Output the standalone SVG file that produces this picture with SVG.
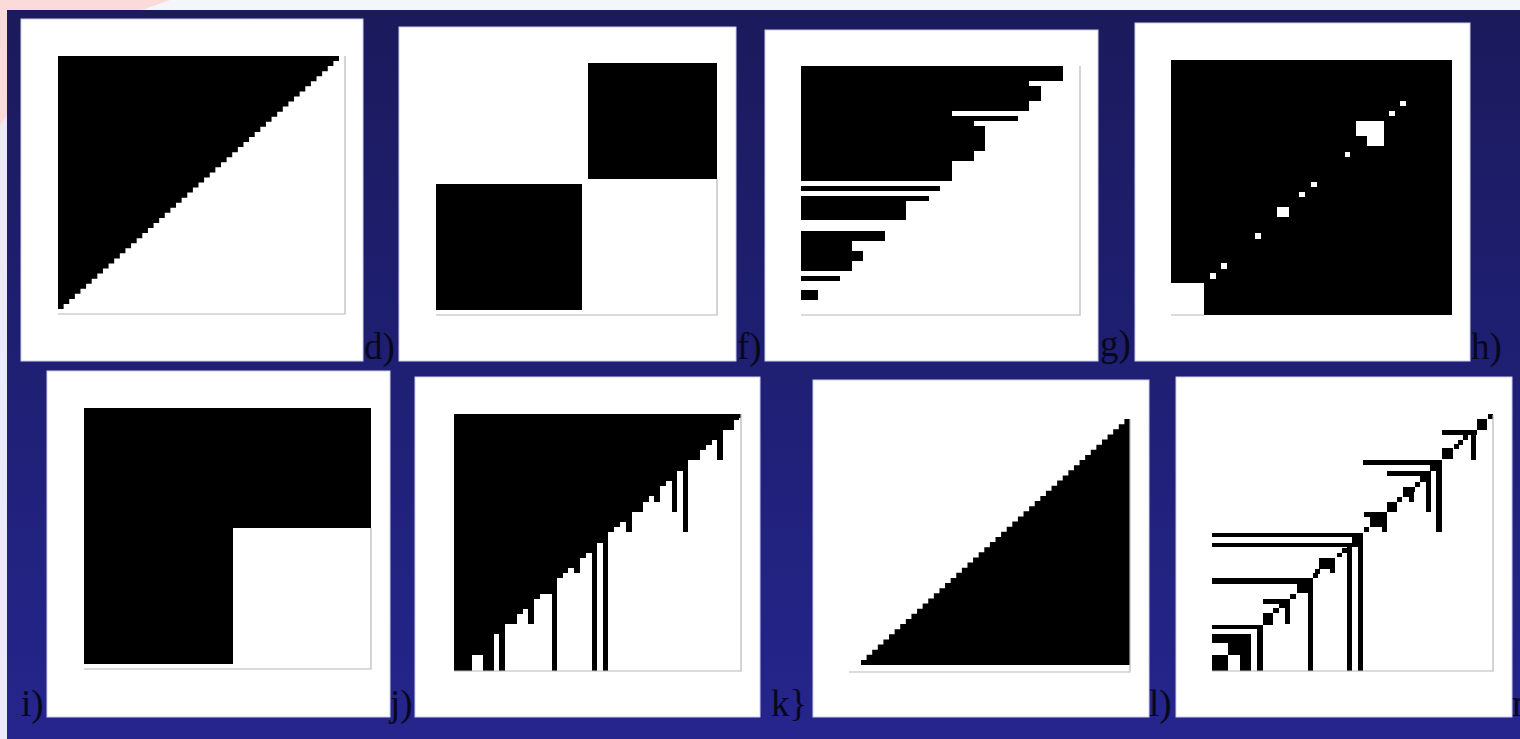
<svg xmlns="http://www.w3.org/2000/svg" width="1520" height="739" viewBox="0 0 1520 739">
<defs>
<linearGradient id="bgGrad" x1="0" y1="0" x2="0" y2="1">
<stop offset="0" stop-color="#1b1a5c"/>
<stop offset="0.5" stop-color="#1f1f74"/>
<stop offset="1" stop-color="#25258d"/>
</linearGradient>
<style>
.panel{fill:#ffffff;stroke:#cfd0ee;stroke-width:1}
.blk{fill:#000000;shape-rendering:crispEdges}
.stair{fill:#000000}
.wht{fill:#ffffff;shape-rendering:crispEdges}
.ax{stroke:#b8b8b8;stroke-width:1.2;fill:none}
.lbl{font-family:"Liberation Serif","Times New Roman",serif;font-size:37px;fill:#08081c}
</style>
</defs>
<rect x="0" y="0" width="1520" height="739" fill="#f3f7fc"/>
<rect x="0" y="110" width="7" height="629" fill="#eceaf6"/>
<polygon points="0,0 170,0 142,10 7,10 7,115 0,125" fill="#fbdada"/>
<rect x="7" y="10" width="1513" height="729" fill="url(#bgGrad)"/>

<g id="panel-d">
<rect class="panel" x="21" y="19" width="342" height="342"/>
<path class="stair" d="M58,56H339
v5.06h-5.62v5.06h-5.62v5.06h-5.62v5.06h-5.62v5.06h-5.62
v5.06h-5.62v5.06h-5.62v5.06h-5.62v5.06h-5.62v5.06h-5.62
v5.06h-5.62v5.06h-5.62v5.06h-5.62v5.06h-5.62v5.06h-5.62
v5.06h-5.62v5.06h-5.62v5.06h-5.62v5.06h-5.62v5.06h-5.62
v5.06h-5.62v5.06h-5.62v5.06h-5.62v5.06h-5.62v5.06h-5.62
v5.06h-5.62v5.06h-5.62v5.06h-5.62v5.06h-5.62v5.06h-5.62
v5.06h-5.62v5.06h-5.62v5.06h-5.62v5.06h-5.62v5.06h-5.62
v5.06h-5.62v5.06h-5.62v5.06h-5.62v5.06h-5.62v5.06h-5.62
v5.06h-5.62v5.06h-5.62v5.06h-5.62v5.06h-5.62v5.06h-5.62
v5.06h-5.62v5.06h-5.62v5.06h-5.62v5.06h-5.62
v5.06H58Z"/>
<path class="ax" d="M58,314H345V56"/>
<text class="lbl" x="364" y="359">d)</text>
</g>

<g id="panel-f">
<rect class="panel" x="399" y="27" width="337" height="334"/>
<rect class="blk" x="588" y="63" width="129" height="116"/>
<rect class="blk" x="436" y="184" width="146" height="126"/>
<path class="ax" d="M436,315H717V179"/>
<text class="lbl" x="737" y="359">f)</text>
</g>

<g id="panel-g">
<rect class="panel" x="765" y="30" width="333" height="331"/>
<g class="blk">
<rect x="801" y="66" width="262" height="15"/>
<rect x="801" y="81" width="228" height="5"/>
<rect x="801" y="86" width="240" height="15"/>
<rect x="801" y="101" width="228" height="10"/>
<rect x="801" y="111" width="151" height="5"/>
<rect x="801" y="116" width="217" height="5"/>
<rect x="801" y="121" width="173" height="5"/>
<rect x="801" y="126" width="184" height="25"/>
<rect x="801" y="151" width="173" height="10"/>
<rect x="801" y="161" width="151" height="20"/>
<rect x="801" y="186" width="139" height="5"/>
<rect x="801" y="196" width="128" height="5"/>
<rect x="801" y="201" width="105" height="19"/>
<rect x="801" y="231" width="84" height="10"/>
<rect x="801" y="241" width="51" height="10"/>
<rect x="801" y="251" width="62" height="10"/>
<rect x="801" y="261" width="51" height="10"/>
<rect x="801" y="276" width="39" height="5"/>
<rect x="801" y="290" width="17" height="10"/>
</g>
<path class="ax" d="M801,315H1080V66"/>
<text class="lbl" x="1100" y="356">g)</text>
</g>

<g id="panel-h">
<rect class="panel" x="1135" y="23" width="335" height="338"/>
<rect class="blk" x="1171" y="60" width="281" height="255"/>
<g class="wht">
<rect x="1171" y="283" width="33" height="32"/>
<rect x="1400" y="101" width="6" height="5"/>
<rect x="1389" y="111" width="6" height="5"/>
<rect x="1356" y="121" width="28" height="15"/>
<rect x="1367" y="136" width="17" height="10"/>
<rect x="1345" y="152" width="5" height="5"/>
<rect x="1311" y="182" width="6" height="5"/>
<rect x="1299" y="192" width="6" height="5"/>
<rect x="1277" y="207" width="12" height="10"/>
<rect x="1255" y="233" width="6" height="6"/>
<rect x="1221" y="263" width="6" height="6"/>
<rect x="1210" y="273" width="6" height="6"/>
</g>
<path class="ax" d="M1171,315H1204"/>
<text class="lbl" x="1471" y="359">h)</text>
</g>

<g id="panel-i">
<rect class="panel" x="47" y="371" width="343" height="346"/>
<path class="blk" d="M84,408H371V528H233V664H84Z"/>
<path class="ax" d="M84,669H371V528"/>
<text class="lbl" x="21" y="716">i)</text>
</g>

<g id="panel-j">
<rect class="panel" x="415" y="377" width="345" height="340"/>
<rect class="blk" x="454" y="414" width="287" height="257"/>
<g class="wht">
<rect x="471.7" y="655" width="11" height="16"/>
<rect x="494" y="634" width="5.3" height="37"/>
<rect x="505" y="624" width="11.7" height="47"/>
<rect x="516.7" y="614" width="6" height="57"/>
<rect x="522.7" y="609" width="5.6" height="62"/>
<rect x="528.3" y="624" width="5.7" height="47"/>
<rect x="534" y="599" width="6" height="72"/>
<rect x="540" y="594" width="11.7" height="77"/>
<rect x="556.7" y="578" width="6" height="93"/>
<rect x="562.7" y="573" width="5.6" height="98"/>
<rect x="568.3" y="568" width="6" height="103"/>
<rect x="574.3" y="573" width="5.7" height="98"/>
<rect x="580" y="558" width="6" height="113"/>
<rect x="586" y="553" width="5.7" height="118"/>
<rect x="596.7" y="543" width="6" height="128"/>
<rect x="608.3" y="532" width="6" height="139"/>
<rect x="614.3" y="527" width="5.7" height="144"/>
<rect x="620" y="522" width="6" height="149"/>
<rect x="626" y="532" width="5.7" height="139"/>
<rect x="631.7" y="512" width="11.6" height="159"/>
<rect x="643.3" y="502" width="6" height="169"/>
<rect x="649.3" y="496" width="4.7" height="175"/>
<rect x="654" y="502" width="6" height="169"/>
<rect x="660" y="486" width="6" height="185"/>
<rect x="666" y="481" width="5.7" height="190"/>
<rect x="671.7" y="512" width="5.6" height="159"/>
<rect x="677.3" y="471" width="6" height="200"/>
<rect x="683.3" y="532" width="5" height="139"/>
<rect x="688.3" y="460" width="11.7" height="211"/>
<rect x="700" y="450" width="6" height="221"/>
<rect x="706" y="445" width="5.7" height="226"/>
<rect x="711.7" y="440" width="5.6" height="231"/>
<rect x="717.3" y="460" width="5.4" height="211"/>
<rect x="722.7" y="430" width="11.3" height="241"/>
<rect x="734" y="420" width="5.3" height="251"/>
<rect x="739.3" y="418" width="1.7" height="253"/>
</g>
<path class="ax" d="M454,671H741V414"/>
<text class="lbl" x="390" y="716">j)</text>
</g>

<g id="panel-k">
<rect class="panel" x="813" y="380" width="336" height="337"/>
<path class="stair" d="M861,665
v-5.125h5.604v-5.125h5.604v-5.125h5.604v-5.125h5.604v-5.125h5.604
v-5.125h5.604v-5.125h5.604v-5.125h5.604v-5.125h5.604v-5.125h5.604
v-5.125h5.604v-5.125h5.604v-5.125h5.604v-5.125h5.604v-5.125h5.604
v-5.125h5.604v-5.125h5.604v-5.125h5.604v-5.125h5.604v-5.125h5.604
v-5.125h5.604v-5.125h5.604v-5.125h5.604v-5.125h5.604v-5.125h5.604
v-5.125h5.604v-5.125h5.604v-5.125h5.604v-5.125h5.604v-5.125h5.604
v-5.125h5.604v-5.125h5.604v-5.125h5.604v-5.125h5.604v-5.125h5.604
v-5.125h5.604v-5.125h5.604v-5.125h5.604v-5.125h5.604v-5.125h5.604
v-5.125h5.604v-5.125h5.604v-5.125h5.604v-5.125h5.604v-5.125h5.604
v-5.125h5.604v-5.125h5.604v-5.125h5.604
V665Z"/>
<path class="ax" d="M849,672H1130V419"/>
<text class="lbl" x="771" y="716">k}</text>
</g>

<g id="panel-l">
<rect class="panel" x="1176" y="377" width="336" height="340"/>
<g class="blk">
<rect x="1212.3" y="655" width="16" height="15.7"/>
<rect x="1212.3" y="634" width="38.4" height="9.3"/>
<rect x="1228.3" y="643" width="22.4" height="12.2"/>
<rect x="1240" y="655" width="10.7" height="15.7"/>
<rect x="1212.3" y="624.7" width="50.4" height="4.6"/>
<rect x="1257" y="624.7" width="5.7" height="46"/>
<rect x="1262.7" y="613.3" width="10.6" height="11.4"/>
<rect x="1273.3" y="608.3" width="5.7" height="5"/>
<rect x="1279" y="603.3" width="6" height="5"/>
<rect x="1263" y="599" width="27" height="4.5"/>
<rect x="1285" y="599" width="5" height="25"/>
<rect x="1290" y="594" width="5.5" height="5"/>
<rect x="1212.3" y="578.3" width="100.4" height="5.5"/>
<rect x="1296.7" y="578.3" width="16" height="15"/>
<rect x="1307.7" y="578.3" width="5" height="92.4"/>
<rect x="1312.7" y="573.3" width="5" height="5"/>
<rect x="1315" y="569.3" width="4.5" height="4.5"/>
<rect x="1319.3" y="558.3" width="15.7" height="4.5"/>
<rect x="1330" y="558.3" width="5" height="14.4"/>
<rect x="1319.3" y="562.7" width="10.7" height="6.6"/>
<rect x="1336.7" y="552.7" width="5" height="4.6"/>
<rect x="1341.7" y="547.8" width="5" height="5"/>
<rect x="1212.3" y="532.5" width="151" height="4.5"/>
<rect x="1358.3" y="532.5" width="5" height="138.2"/>
<rect x="1212.3" y="542.5" width="139.5" height="4.7"/>
<rect x="1347" y="542.5" width="5" height="128.2"/>
<rect x="1351.5" y="532.5" width="7" height="14.8"/>
<rect x="1364" y="526.7" width="5.3" height="5"/>
<rect x="1364" y="511.7" width="22.7" height="5"/>
<rect x="1381.7" y="511.7" width="5" height="20"/>
<rect x="1370" y="516.7" width="11.7" height="10"/>
<rect x="1386.7" y="501.7" width="10" height="10"/>
<rect x="1396.7" y="496.7" width="5" height="5"/>
<rect x="1402.7" y="486.7" width="12.3" height="5"/>
<rect x="1409" y="486.7" width="5" height="15"/>
<rect x="1402.7" y="491.7" width="6.3" height="5"/>
<rect x="1415" y="481.7" width="5" height="5"/>
<rect x="1420" y="476" width="5.7" height="5.7"/>
<rect x="1386.7" y="471" width="43.3" height="5"/>
<rect x="1425.7" y="471" width="5" height="40.7"/>
<rect x="1363.3" y="460" width="78.4" height="5"/>
<rect x="1436.4" y="460" width="5.3" height="71.7"/>
<rect x="1430" y="460" width="6.4" height="11"/>
<rect x="1441.7" y="448.3" width="11" height="11"/>
<rect x="1454" y="444" width="4.5" height="4.5"/>
<rect x="1458.3" y="440" width="5" height="4.5"/>
<rect x="1463.3" y="435" width="5" height="5"/>
<rect x="1441.7" y="430" width="35" height="5"/>
<rect x="1471" y="430" width="4.7" height="30"/>
<rect x="1476.7" y="419" width="10.6" height="11"/>
<rect x="1487.7" y="414.3" width="5" height="4.7"/>
</g>
<path class="ax" d="M1212,671H1493V415"/>
<text class="lbl" x="1149" y="716">l)</text>
<text class="lbl" x="1512" y="716">m)</text>
</g>
</svg>
